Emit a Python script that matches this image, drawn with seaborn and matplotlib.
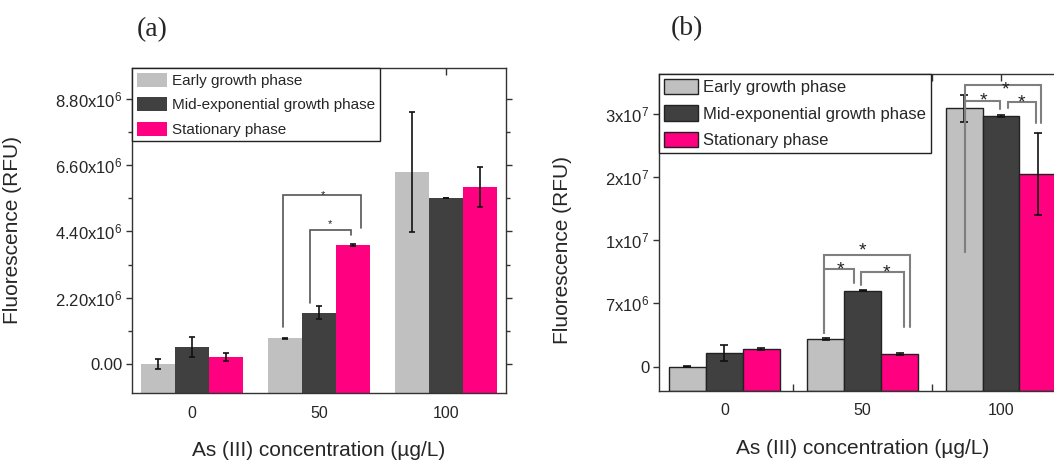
import numpy as np
import pandas as pd
import matplotlib
matplotlib.use("Agg")
import matplotlib.pyplot as plt
import seaborn as sns
from matplotlib.ticker import FixedLocator, MultipleLocator

# ---------------- data ----------------
concentrations = ["0", "50", "100"]
phases = ["Early growth phase", "Mid-exponential growth phase", "Stationary phase"]
colors = ["#C0C0C0", "#404040", "#FF0080"]

# panel (a)
a_early = [0.00e6, 0.85e6, 6.37e6]
a_mid = [0.57e6, 1.71e6, 5.50e6]
a_stat = [0.23e6, 3.94e6, 5.87e6]
a_early_sd = [0.18e6, 0.03e6, 2.00e6]
a_mid_sd = [0.33e6, 0.22e6, 0.0]
a_stat_sd = [0.13e6, 0.03e6, 0.66e6]
a_ticks = [0, 2.2e6, 4.4e6, 6.6e6, 8.8e6]
a_ticklabels = ["0.00", "2.20x10$^6$", "4.40x10$^6$", "6.60x10$^6$", "8.80x10$^6$"]

# panel (b)
b_early = [0.0, 3.28e6, 30.6e6]
b_mid = [1.66e6, 9.0e6, 29.7e6]
b_stat = [2.10e6, 1.47e6, 22.8e6]
b_early_sd = [0.03e6, 0.08e6, 1.65e6]
b_mid_sd = [0.95e6, 0.05e6, 0.10e6]
b_stat_sd = [0.10e6, 0.10e6, 4.84e6]
b_ticks = [0, 7.5e6, 15e6, 22.5e6, 30e6]
b_ticklabels = ["0", "7x10$^6$", "1x10$^7$", "2x10$^7$", "3x10$^7$"]

# significance brackets: (x_left, y_left_bottom, x_right, y_right_bottom, y_top)
a_brackets = [(0.72, 1.24e6, 1.33, 4.51e6, 5.61e6),
              (0.93, 2.02e6, 1.25, 4.28e6, 4.45e6)]
a_stars = [(1.028, 5.72e6), (1.083, 4.76e6)]
b_brackets = [(0.724, 3.96e6, 1.339, 4.74e6, 13.23e6),
              (0.724, 3.96e6, 0.941, 9.95e6, 11.54e6),
              (0.989, 9.68e6, 1.302, 4.74e6, 11.26e6),
              (1.737, 13.63e6, 2.289, 28.84e6, 33.38e6),
              (1.737, 13.63e6, 1.990, 30.50e6, 31.52e6),
              (2.051, 30.62e6, 2.255, 28.84e6, 31.33e6)]
b_stars = [(1.001, 14.54e6), (0.842, 12.25e6), (1.170, 11.85e6),
           (2.031, 33.6e6), (1.874, 32.3e6), (2.149, 32.07e6)]

# ---------------- style ----------------
sns.set_style("ticks")
plt.rcParams["font.family"] = ["Liberation Sans", "DejaVu Sans"]
plt.rcParams["mathtext.fontset"] = "custom"
plt.rcParams["mathtext.rm"] = "Liberation Sans"
plt.rcParams["mathtext.it"] = "Liberation Sans"
plt.rcParams["mathtext.default"] = "regular"

fig = plt.figure(figsize=(10.54, 4.62), dpi=100)
W, H = 1054.0, 462.0


def make_df(e, m, s):
    rows = []
    for vals, ph in zip([e, m, s], phases):
        for c, v in zip(concentrations, vals):
            rows.append({"conc": c, "phase": ph, "value": v})
    return pd.DataFrame(rows)


def panel(rect, df, sds, edge, ylim, ticks, ticklabels, brackets, stars,
          star_fs, br_color, br_lw, legend_fs, cap, minor_y):
    ax = fig.add_axes(rect)
    sns.barplot(data=df, x="conc", y="value", hue="phase", order=concentrations,
                hue_order=phases, palette=colors, saturation=1, errorbar=None,
                edgecolor=edge if edge else "none", linewidth=1.0 if edge else 0,
                legend=False, ax=ax, zorder=2)
    base = ylim[0]
    for cont, sd in zip(ax.containers, sds):
        xs = [p.get_x() + p.get_width() / 2 for p in cont.patches]
        ys = [p.get_height() for p in cont.patches]
        # Origin-style: bars rise from the bottom of the frame
        for p, v in zip(cont.patches, ys):
            p.set_y(base)
            p.set_height(v - base)
        ax.errorbar(xs, ys, yerr=sd, fmt="none", ecolor="#111111",
                    elinewidth=1.2, capsize=cap, capthick=1.2, zorder=4)
    for (x1, y1, x2, y2, yt) in brackets:
        ax.plot([x1, x1, x2, x2], [y1, yt, yt, y2], color=br_color,
                lw=br_lw, zorder=5, solid_joinstyle="miter")
    for (sx, sy) in stars:
        ax.annotate("*", xy=(sx, sy), xytext=(0, -0.575 * star_fs),
                    textcoords="offset points", ha="center", va="baseline",
                    fontsize=star_fs, color="#222222", zorder=6)
    ax.set_xlim(-0.47, 2.47)
    ax.set_ylim(*ylim)
    ax.yaxis.set_major_locator(FixedLocator(ticks))
    ax.set_yticklabels(ticklabels)
    if minor_y:
        ax.yaxis.set_minor_locator(MultipleLocator(minor_y))
    ax.xaxis.set_minor_locator(FixedLocator([0.5, 1.5]))
    ax.tick_params(axis="y", which="both", direction="out", left=True,
                   right=True, labelright=False, labelsize=12, length=4,
                   width=1, color="#333333", pad=3)
    ax.tick_params(axis="y", which="minor", length=3)
    ax.tick_params(axis="x", which="both", direction="in", top=True,
                   bottom=True, labelsize=11.5, length=5, width=1,
                   color="#333333", pad=9)
    for sp in ax.spines.values():
        sp.set_visible(True)
        sp.set_color("#333333")
        sp.set_linewidth(1.0)
        sp.set_zorder(7)
    ax.set_xlabel("As (III) concentration (µg/L)", fontsize=15)
    ax.set_ylabel("Fluorescence (RFU)", fontsize=15)
    leg = ax.legend(ax.containers, phases, loc="upper left",
                    bbox_to_anchor=(0, 1), borderaxespad=0, fancybox=False,
                    framealpha=1, edgecolor="#222222", fontsize=legend_fs,
                    handlelength=2.0, handleheight=1.05, labelspacing=0.6,
                    handletextpad=0.35, borderpad=0.3)
    leg.get_frame().set_linewidth(1.0)
    leg.set_zorder(10)
    return ax


# panel (a)
ax1 = panel([132 / W, (H - 393) / H, 374 / W, 325 / H],
            make_df(a_early, a_mid, a_stat), [a_early_sd, a_mid_sd, a_stat_sd],
            None, (-0.96e6, 9.82e6), a_ticks, a_ticklabels, a_brackets, a_stars,
            8, "#555555", 1.2, 11, 2.2, 1.1e6)
ax1.xaxis.set_minor_locator(FixedLocator([]))
ax1.yaxis.set_label_coords(-0.294, 0.5)
ax1.xaxis.set_label_coords(0.5, -(451 - 393) / 325)
ax1.xaxis.label.set_va("center")

# panel (b)
ax2 = panel([659.3 / W, (H - 390.7) / H, 406.7 / W, 316.7 / H],
            make_df(b_early, b_mid, b_stat), [b_early_sd, b_mid_sd, b_stat_sd],
            "#222222", (-2.84e6, 34.68e6), b_ticks, b_ticklabels, b_brackets,
            b_stars, 14, "#7F7F7F", 1.5, 12, 3, None)
ax2.tick_params(axis="y", right=False)
ax2.yaxis.set_label_coords(-0.215, 0.444)
ax2.xaxis.set_label_coords(0.5, -(448 - 390.7) / 316.7)
ax2.xaxis.label.set_va("center")

fig.text(152 / W, 1 - 30 / H, "(a)", fontsize=20, family="Liberation Serif",
         ha="center", va="center")
fig.text(687 / W, 1 - 29 / H, "(b)", fontsize=20, family="Liberation Serif",
         ha="center", va="center")

fig.savefig("out.png", dpi=100)
